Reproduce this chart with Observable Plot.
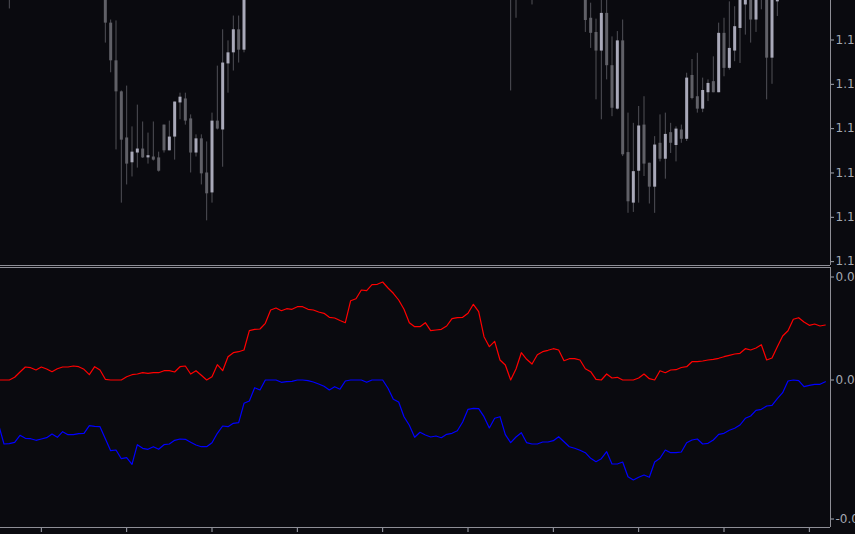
<!DOCTYPE html>
<html>
<head>
<meta charset="utf-8">
<script src="https://cdn.jsdelivr.net/npm/d3@7"></script>
<script src="https://cdn.jsdelivr.net/npm/@observablehq/plot@0.6"></script>
<style>
  html, body { margin: 0; padding: 0; background: #0a0a0f; overflow: hidden; width: 855px; height: 534px; }
  #chart svg { display: block; }
</style>
</head>
<body>
<div id="chart"></div>
<script>
// ---- Price panel (candles): bar index, open, high, low, close ----
const candleBar = [2, 20, 21, 22, 23, 24, 25, 26, 27, 28, 29, 30, 31, 32, 33, 34, 35, 36, 37, 38, 39, 40, 41, 42, 43, 44, 45, 46,
  96, 97, 100, 110, 111, 112, 113, 114, 115, 116, 117, 118, 119, 120, 121, 122, 123, 124, 125, 126, 127, 128, 129, 130,
  131, 132, 133, 134, 135, 136, 137, 138, 139, 140, 141, 142, 143, 144, 145, 146];
const candleOpen = [1.12150, 1.12158, 1.12038, 1.11953, 1.11883, 1.11779, 1.11723, 1.11745, 1.11754, 1.11734, 1.11736, 1.11734, 1.11808, 1.11750, 1.11781, 1.11858, 1.11867, 1.11822, 1.11745, 1.11777, 1.11700, 1.11655, 1.11817, 1.11797, 1.11946, 1.11971, 1.12023, 1.11977,
  1.12120, 1.12140, 1.12130, 1.12130, 1.12049, 1.12017, 1.11975, 1.12060, 1.11942, 1.11844, 1.11998, 1.11746, 1.11632, 1.11704, 1.11808, 1.11722, 1.11668, 1.11767, 1.11731, 1.11791, 1.11762, 1.11797, 1.11776, 1.11920,
  1.11872, 1.11844, 1.11881, 1.11906, 1.11881, 1.12015, 1.11936, 1.11975, 1.12026, 1.12079, 1.12120, 1.12045, 1.12120, 1.12120, 1.11959, 1.12086];
const candleHigh = [1.12170, 1.12180, 1.12045, 1.12043, 1.11885, 1.11896, 1.11804, 1.11853, 1.11815, 1.11790, 1.11815, 1.11747, 1.11808, 1.11817, 1.11860, 1.11880, 1.11880, 1.11831, 1.11786, 1.11786, 1.11770, 1.11835, 1.11941, 1.12023, 1.11998, 1.12054, 1.12054, 1.12135,
  1.12160, 1.12180, 1.12160, 1.12150, 1.12083, 1.12047, 1.12100, 1.12095, 1.12007, 1.12019, 1.12045, 1.11835, 1.11812, 1.11850, 1.11872, 1.11722, 1.11782, 1.11831, 1.11835, 1.11812, 1.11804, 1.11808, 1.11925, 1.11956,
  1.11970, 1.11914, 1.11910, 1.11962, 1.12038, 1.12049, 1.12086, 1.12075, 1.12120, 1.12130, 1.12140, 1.12130, 1.12150, 1.12140, 1.12120, 1.12130];
const candleLow = [1.12070, 1.11993, 1.11926, 1.11752, 1.11632, 1.11673, 1.11691, 1.11711, 1.11733, 1.11720, 1.11727, 1.11702, 1.11745, 1.11750, 1.11729, 1.11820, 1.11808, 1.11700, 1.11736, 1.11673, 1.11592, 1.11632, 1.11797, 1.11713, 1.11880, 1.11930, 1.11948, 1.11971,
  1.11885, 1.12049, 1.12079, 1.12017, 1.11981, 1.11865, 1.11820, 1.11910, 1.11827, 1.11842, 1.11737, 1.11609, 1.11611, 1.11632, 1.11692, 1.11630, 1.11609, 1.11725, 1.11686, 1.11744, 1.11725, 1.11767, 1.11771, 1.11865,
  1.11835, 1.11836, 1.11861, 1.11881, 1.11881, 1.11917, 1.11932, 1.11951, 1.11947, 1.12011, 1.11993, 1.12017, 1.12068, 1.11865, 1.11900, 1.12053];
const candleClose = [1.12130, 1.12038, 1.11953, 1.11883, 1.11774, 1.11720, 1.11747, 1.11754, 1.11734, 1.11739, 1.11729, 1.11704, 1.11750, 1.11781, 1.11860, 1.11871, 1.11817, 1.11745, 1.11777, 1.11698, 1.11653, 1.11817, 1.11799, 1.11948, 1.11971, 1.12023, 1.11977, 1.12113,
  1.12140, 1.12110, 1.12110, 1.12044, 1.12015, 1.11975, 1.12060, 1.11942, 1.11846, 1.11998, 1.11741, 1.11635, 1.11703, 1.11806, 1.11720, 1.11668, 1.11763, 1.11731, 1.11787, 1.11767, 1.11799, 1.11776, 1.11914, 1.11868,
  1.11844, 1.11886, 1.11902, 1.11881, 1.12015, 1.11936, 1.11981, 1.12030, 1.12101, 1.12110, 1.12045, 1.12110, 1.12105, 1.11959, 1.12100, 1.12110];
const priceTicks = [1.1150, 1.1160, 1.1170, 1.1180, 1.1190, 1.1200, 1.1210];

// ---- Indicator panel: one value per bar (bar 0 .. 155) ----
const redSeries = [
  0, 0, 0, 0.00027, 0.0008, 0.0013, 0.00123, 0.001, 0.0013, 0.0011,
  0.00083, 0.00113, 0.0013, 0.0013, 0.0014, 0.00133, 0.00107, 0.00053, 0.00133, 0.001,
  0.00007, 0, 0, 0, 0.00033, 0.00053, 0.0006, 0.00073, 0.00067, 0.00073,
  0.00073, 0.00093, 0.00093, 0.0008, 0.00133, 0.0014, 0.0006, 0.00093, 0.00047, 0,
  0.00033, 0.00153, 0.00093, 0.00233, 0.00273, 0.00283, 0.003, 0.00493, 0.00507, 0.0051,
  0.00567, 0.007, 0.0072, 0.00693, 0.00713, 0.00707, 0.00733, 0.00733, 0.00707, 0.007,
  0.0068, 0.00667, 0.00627, 0.0062, 0.00595, 0.00573, 0.00793, 0.00813, 0.009, 0.00893,
  0.00953, 0.00957, 0.0098, 0.0092, 0.00867, 0.008, 0.00707, 0.00573, 0.00533, 0.00533,
  0.00573, 0.00493, 0.005, 0.00507, 0.0054, 0.00613, 0.00623, 0.00627, 0.00667, 0.00757,
  0.00683, 0.00433, 0.00333, 0.00387, 0.002, 0.0015, 0, 0.0011, 0.00273, 0.00207,
  0.0016, 0.00253, 0.00283, 0.00297, 0.00313, 0.003, 0.00193, 0.00213, 0.00213, 0.002,
  0.00113, 0.00083, 0.00007, 0, 0.0006, 0.0002, 0.00027, 0, 0, 0,
  0.0002, 0.0006, 0.00013, 0, 0.00093, 0.00073, 0.001, 0.00103, 0.00125, 0.00133,
  0.00183, 0.00183, 0.0019, 0.002, 0.00207, 0.00217, 0.00233, 0.00247, 0.0026, 0.00267,
  0.00313, 0.003, 0.0032, 0.00353, 0.002, 0.0022, 0.00333, 0.0044, 0.00493, 0.00607,
  0.00623, 0.0058, 0.00547, 0.0056, 0.0054, 0.0055
];
const blueSeries = [
  -0.0045, -0.0064, -0.00637, -0.00623, -0.00553, -0.00583, -0.00587, -0.00603, -0.0059, -0.00577,
  -0.0054, -0.00573, -0.00517, -0.00547, -0.00547, -0.00537, -0.00533, -0.00457, -0.00463, -0.00467,
  -0.00587, -0.00707, -0.007, -0.00787, -0.00777, -0.00843, -0.00647, -0.00683, -0.00693, -0.00667,
  -0.00693, -0.00647, -0.0064, -0.00603, -0.0059, -0.00593, -0.00623, -0.0065, -0.00667, -0.00667,
  -0.00627, -0.00533, -0.0046, -0.00467, -0.00433, -0.00427, -0.00233, -0.0021, -0.00077, -0.001,
  0, 0, 0, -0.00023, -0.00017, -0.00013, 0, 0, -0.00007, -0.0002,
  -0.0004, -0.00063, -0.001, -0.00067, -0.00092, -0.0001, 0, 0, 0, -0.00023,
  0, 0, 0, -0.00083, -0.00193, -0.0022, -0.00367, -0.00453, -0.00573, -0.00523,
  -0.0055, -0.0057, -0.0056, -0.00577, -0.00543, -0.00533, -0.00507, -0.0042, -0.00293, -0.00283,
  -0.00287, -0.00367, -0.0048, -0.00383, -0.00367, -0.00547, -0.00627, -0.0057, -0.00527, -0.00627,
  -0.0064, -0.0064, -0.0062, -0.0062, -0.00607, -0.00567, -0.00617, -0.00667, -0.00683, -0.00703,
  -0.00727, -0.00783, -0.00817, -0.00787, -0.00717, -0.0084, -0.0084, -0.0082, -0.00967, -0.01,
  -0.00973, -0.0095, -0.00973, -0.0082, -0.00783, -0.007, -0.00727, -0.00727, -0.0072, -0.00627,
  -0.006, -0.0059, -0.0064, -0.00633, -0.006, -0.00543, -0.00533, -0.00503, -0.00483, -0.0045,
  -0.00383, -0.0036, -0.00303, -0.00293, -0.0026, -0.00253, -0.00187, -0.00127, -0.0001, 0,
  -0.00007, -0.00067, -0.00053, -0.00043, -0.00043, -0.00017
];
const flowTicks = [-0.0139, 0, 0.0103];
const timeTicks = [8, 24, 40, 56, 72, 88, 104, 120, 136, 152];

// ---- scales / styling (Plot adds a 0.5px offset, ranges are set accordingly) ----
const bg = "#0a0a0f";
const frameColor = "#8e8e96";
const labelColor = "#a4a8b2";
const wickColor = "#505057";
const bullColor = "#a9a9b9";
const bearColor = "#606067";
const xDomain = [0, 150];
const xRange = [-1.833, 798.167];
const xEdge = 155.97;
const priceDomain = [1.114913, 1.120902];
const flowDomain = [-0.01475, 0.01125];
const fmt = d => d.toFixed(4);

const candles = candleBar.map((b, i) => ({
  bar: b, open: candleOpen[i], high: candleHigh[i], low: candleLow[i], close: candleClose[i]
}));
const flows = redSeries.map((r, i) => ({bar: i, red: r, blue: blueSeries[i]}));

const baseStyle = {background: bg, color: labelColor, fontFamily: "DejaVu Sans, sans-serif", fontSize: "12px", overflow: "hidden"};

const upper = Plot.plot({
  width: 855, height: 267,
  marginLeft: 0, marginRight: 25, marginTop: 0, marginBottom: 1,
  style: baseStyle,
  x: {domain: xDomain, range: xRange, axis: null},
  y: {domain: priceDomain, range: [265, -0.5], axis: "right", ticks: priceTicks,
      tickFormat: fmt, tickSize: 3, tickPadding: 2, label: null},
  marks: [
    Plot.ruleX(candles, {x: "bar", y1: "low", y2: "high", stroke: wickColor, strokeWidth: 1, clip: true}),
    Plot.ruleX(candles, {x: "bar", y1: "open", y2: "close",
      stroke: d => d.close >= d.open ? bullColor : bearColor, strokeWidth: 3, clip: true}),
    Plot.ruleY([priceDomain[0]], {x1: xDomain[0] - 1, x2: xEdge, stroke: frameColor}),
    Plot.ruleX([xEdge], {y1: priceDomain[0], y2: priceDomain[1] + 0.001, stroke: frameColor})
  ]
});

const lower = Plot.plot({
  width: 855, height: 267,
  marginLeft: 0, marginRight: 25, marginTop: 0, marginBottom: 6,
  style: baseStyle,
  x: {domain: xDomain, range: xRange, axis: "bottom", ticks: timeTicks, tickSize: 4,
      tickFormat: () => "", label: null},
  y: {domain: flowDomain, range: [260, 0], axis: "right", ticks: flowTicks,
      tickFormat: fmt, tickSize: 3, tickPadding: 2, label: null},
  marks: [
    Plot.ruleY([flowDomain[1]], {x1: xDomain[0] - 1, x2: xEdge, stroke: frameColor}),
    Plot.ruleY([flowDomain[0]], {x1: xDomain[0] - 1, x2: xEdge, stroke: frameColor}),
    Plot.ruleX([xEdge], {y1: flowDomain[0], y2: flowDomain[1], stroke: frameColor}),
    Plot.line(flows, {x: "bar", y: "red", stroke: "#ff0000", strokeWidth: 1.2}),
    Plot.line(flows, {x: "bar", y: "blue", stroke: "#0000ff", strokeWidth: 1.2})
  ]
});

const chart = document.getElementById("chart");
chart.appendChild(upper);
chart.appendChild(lower);
</script>
</body>
</html>
